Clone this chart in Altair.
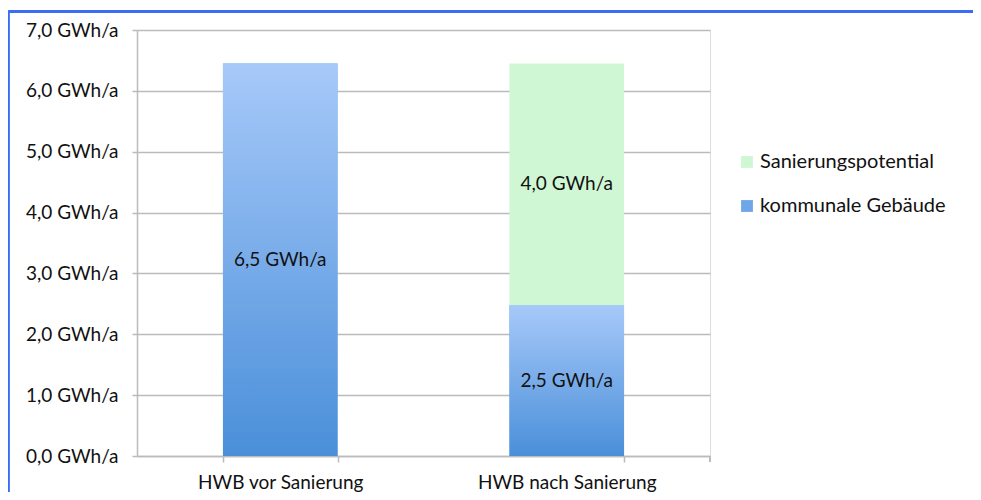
import altair as alt
import pandas as pd

categories = ["HWB vor Sanierung", "HWB nach Sanierung"]
kommunale = [6.45, 2.48]
sanierung = [0.0, 3.97]
label_kommunale = ["6,5 GWh/a", "2,5 GWh/a"]
label_sanierung = ["", "4,0 GWh/a"]
series = ["Sanierungspotential", "kommunale Gebäude"]

rows = []
for i, c in enumerate(categories):
    rows.append(dict(cat=c, series=series[1], start=0.0, end=kommunale[i], label=label_kommunale[i], order=0))
    if sanierung[i] > 0:
        rows.append(dict(cat=c, series=series[0], start=kommunale[i], end=kommunale[i] + sanierung[i],
                         label=label_sanierung[i], order=1))
df = pd.DataFrame(rows)
df["mid"] = (df["start"] + df["end"]) / 2

FONT = "Lato"
W, H = 573, 426

x_enc = alt.X("cat:N", sort=categories, title=None,
              scale=alt.Scale(paddingInner=0.6, paddingOuter=0.3),
              axis=alt.Axis(labelAngle=0, labelFontSize=19, labelPadding=11, labelColor="#111",
                            tickBand="extent", tickSize=6, tickColor="#bbbbbb", tickWidth=1.5,
                            domainColor="#bbbbbb", domainWidth=1.5, labelFont=FONT))
y_enc = alt.Y("start:Q", title=None,
              scale=alt.Scale(domain=[0, 7], nice=False),
              axis=alt.Axis(values=[0, 1, 2, 3, 4, 5, 6, 7],
                            labelExpr="replace(format(datum.value, '.1f'), '.', ',') + ' GWh/a'",
                            labelFontSize=19, labelPadding=14, labelColor="#111", labelFont=FONT,
                            tickSize=5, tickColor="#bbbbbb", tickWidth=1.5,
                            domainColor="#bbbbbb", domainWidth=1.5,
                            gridColor="#bbbbbb", gridWidth=1.5))

base = alt.Chart(df)

bars = base.mark_bar().encode(
    x=x_enc,
    y=y_enc,
    y2="end:Q",
    color=alt.Color("series:N",
                    scale=alt.Scale(domain=series, range=["#d0f7d4", "#6ea6e8"]),
                    legend=alt.Legend(title=None, orient="none", legendX=600, legendY=122,
                                      labelFontSize=20, labelFont=FONT, labelColor="#111",
                                      labelLimit=400,
                                      symbolType="square", symbolSize=140, symbolStrokeWidth=0,
                                      rowPadding=24, labelOffset=3)),
)

grad = alt.LinearGradient(
    gradient="linear", x1=0, x2=0, y1=0, y2=1,
    stops=[alt.GradientStop(color="#a7c9f9", offset=0),
           alt.GradientStop(color="#4a8fd9", offset=1)],
)
blue = base.transform_filter(alt.datum.series == series[1]).mark_bar(color=grad).encode(
    x=alt.X("cat:N", sort=categories),
    y="start:Q",
    y2="end:Q",
)

labels = base.mark_text(fontSize=19, font=FONT, color="#111").encode(
    x=alt.X("cat:N", sort=categories),
    y="mid:Q",
    text="label:N",
)

frame_top = base.mark_rule(color="#3a6cf5", strokeWidth=3).encode(
    x=alt.value(-128.5), x2=alt.value(W + 270), y=alt.value(-18.5))
frame_left = base.mark_rule(color="#3a6cf5", strokeWidth=2).encode(
    x=alt.value(-128.5), y=alt.value(-18.5), y2=alt.value(H + 60))
end_tick = base.mark_rule(color="#bbbbbb", strokeWidth=1.5).encode(
    x=alt.value(W), y=alt.value(H), y2=alt.value(H + 6))

chart = alt.layer(bars, blue, labels, frame_top, frame_left, end_tick).properties(
    width=W, height=H,
    autosize=alt.AutoSizeParams(type="none"),
    padding={"left": 129, "top": 22, "right": 263, "bottom": 36},
).configure_view(stroke=None).configure(background="white")

chart.save("out.html", embed_options={"renderer": "svg", "actions": False})
